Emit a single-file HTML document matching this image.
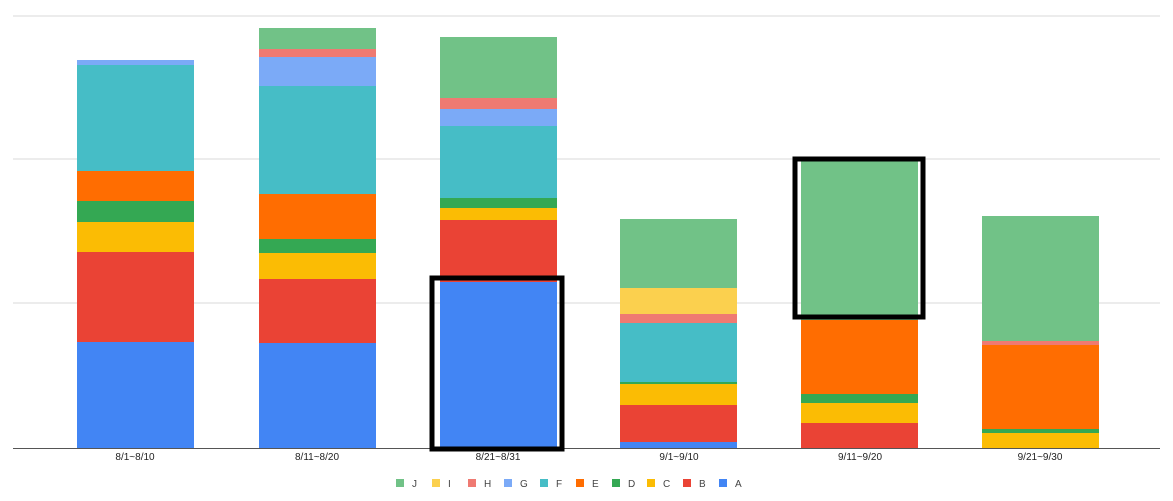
<!DOCTYPE html>
<html><head><meta charset="utf-8"><style>body{margin:0;background:#fff}</style></head><body>
<svg width="1173" height="496" xmlns="http://www.w3.org/2000/svg" font-family="Liberation Sans, sans-serif">
<rect width="1173" height="496" fill="#fff"/>
<g stroke="#e6e6e6" stroke-width="1.5"><line x1="13" y1="16" x2="1160" y2="16"/><line x1="13" y1="159" x2="1160" y2="159"/><line x1="13" y1="303" x2="1160" y2="303"/></g>
<g>
<!-- bar1 x77 -->
<rect x="77" y="342" width="117" height="106" fill="#4285f4"/>
<rect x="77" y="252" width="117" height="90" fill="#ea4335"/>
<rect x="77" y="222" width="117" height="30" fill="#fbbc04"/>
<rect x="77" y="201" width="117" height="21" fill="#34a853"/>
<rect x="77" y="171" width="117" height="30" fill="#ff6d01"/>
<rect x="77" y="65" width="117" height="106" fill="#46bdc6"/>
<rect x="77" y="60" width="117" height="5" fill="#7baaf7"/>
<!-- bar2 x259 -->
<rect x="259" y="343" width="117" height="105" fill="#4285f4"/>
<rect x="259" y="279" width="117" height="64" fill="#ea4335"/>
<rect x="259" y="253" width="117" height="26" fill="#fbbc04"/>
<rect x="259" y="239" width="117" height="14" fill="#34a853"/>
<rect x="259" y="194" width="117" height="45" fill="#ff6d01"/>
<rect x="259" y="86" width="117" height="108" fill="#46bdc6"/>
<rect x="259" y="57" width="117" height="29" fill="#7baaf7"/>
<rect x="259" y="49" width="117" height="8" fill="#ef7a72"/>
<rect x="259" y="28" width="117" height="21" fill="#71c287"/>
<!-- bar3 x440 -->
<rect x="440" y="282" width="117" height="166" fill="#4285f4"/>
<rect x="440" y="220" width="117" height="62" fill="#ea4335"/>
<rect x="440" y="208" width="117" height="12" fill="#fbbc04"/>
<rect x="440" y="198" width="117" height="10" fill="#34a853"/>
<rect x="440" y="126" width="117" height="72" fill="#46bdc6"/>
<rect x="440" y="109" width="117" height="17" fill="#7baaf7"/>
<rect x="440" y="98" width="117" height="11" fill="#ef7a72"/>
<rect x="440" y="37" width="117" height="61" fill="#71c287"/>
<!-- bar4 x620 -->
<rect x="620" y="442" width="117" height="6" fill="#4285f4"/>
<rect x="620" y="405" width="117" height="37" fill="#ea4335"/>
<rect x="620" y="384" width="117" height="21" fill="#fbbc04"/>
<rect x="620" y="382" width="117" height="2" fill="#34a853"/>
<rect x="620" y="323" width="117" height="59" fill="#46bdc6"/>
<rect x="620" y="314" width="117" height="9" fill="#ef7a72"/>
<rect x="620" y="288" width="117" height="26" fill="#fbd04e"/>
<rect x="620" y="219" width="117" height="69" fill="#71c287"/>
<!-- bar5 x801 -->
<rect x="801" y="423" width="117" height="25" fill="#ea4335"/>
<rect x="801" y="403" width="117" height="20" fill="#fbbc04"/>
<rect x="801" y="394" width="117" height="9" fill="#34a853"/>
<rect x="801" y="320" width="117" height="74" fill="#ff6d01"/>
<rect x="801" y="160" width="117" height="160" fill="#71c287"/>
<!-- bar6 x982 -->
<rect x="982" y="433" width="117" height="15" fill="#fbbc04"/>
<rect x="982" y="429" width="117" height="4" fill="#34a853"/>
<rect x="982" y="345" width="117" height="84" fill="#ff6d01"/>
<rect x="982" y="341" width="117" height="4" fill="#ef7a72"/>
<rect x="982" y="216" width="117" height="125" fill="#71c287"/>
</g>
<line x1="13" y1="448.5" x2="1160" y2="448.5" stroke="#555" stroke-width="1"/>
<g fill="none" stroke="#000" stroke-width="5">
<rect x="432" y="278" width="130" height="171"/>
<rect x="795" y="159" width="128" height="158"/>
</g>
<g font-size="10" fill="#222" text-anchor="middle">
<text x="135" y="460">8/1~8/10</text><text x="317" y="460">8/11~8/20</text><text x="498" y="460">8/21~8/31</text>
<text x="679" y="460">9/1~9/10</text><text x="860" y="460">9/11~9/20</text><text x="1040" y="460">9/21~9/30</text>
</g>
<g font-size="10" fill="#444">
<rect x="396" y="479" width="8" height="8" fill="#71c287"/><text x="412" y="487">J</text>
<rect x="432" y="479" width="8" height="8" fill="#fbd04e"/><text x="448" y="487">I</text>
<rect x="468" y="479" width="8" height="8" fill="#ef7a72"/><text x="484" y="487">H</text>
<rect x="504" y="479" width="8" height="8" fill="#7baaf7"/><text x="520" y="487">G</text>
<rect x="540" y="479" width="8" height="8" fill="#46bdc6"/><text x="556" y="487">F</text>
<rect x="576" y="479" width="8" height="8" fill="#ff6d01"/><text x="592" y="487">E</text>
<rect x="612" y="479" width="8" height="8" fill="#34a853"/><text x="628" y="487">D</text>
<rect x="647" y="479" width="8" height="8" fill="#fbbc04"/><text x="663" y="487">C</text>
<rect x="683" y="479" width="8" height="8" fill="#ea4335"/><text x="699" y="487">B</text>
<rect x="719" y="479" width="8" height="8" fill="#4285f4"/><text x="735" y="487">A</text>
</g>
</svg>
</body></html>
